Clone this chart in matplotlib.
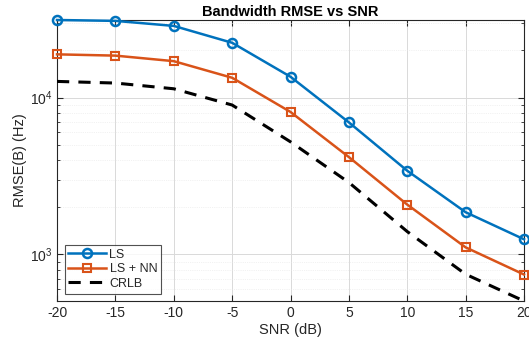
import matplotlib
matplotlib.use("Agg")
import matplotlib.pyplot as plt
from matplotlib.ticker import LogLocator, NullFormatter

snr = [-20, -15, -10, -5, 0, 5, 10, 15, 20]
ls = [31300, 30900, 28700, 22400, 13600, 6960, 3420, 1860, 1250]
ls_nn = [18900, 18550, 17100, 13400, 8110, 4180, 2080, 1110, 745]
crlb = [12700, 12400, 11400, 8980, 5230, 2880, 1400, 748, 505]

plt.rcParams['font.family'] = ['Liberation Sans', 'DejaVu Sans']
plt.rcParams['mathtext.fontset'] = 'custom'
plt.rcParams['mathtext.rm'] = 'Liberation Sans'

fig = plt.figure(figsize=(5.29, 3.46), dpi=100)
ax = fig.add_axes([57/529, 1-301/346, (524-57)/529, (301-20)/346])

blue = (0, 0.447, 0.741)
orange = (0.85, 0.325, 0.098)
ax.semilogy(snr, ls, '-o', color=blue, lw=1.8, ms=6.5, mfc='none', mew=1.8, label='LS', clip_on=False, zorder=3)
ax.semilogy(snr, ls_nn, '-s', color=orange, lw=1.8, ms=5.5, mfc='none', mew=1.5, label='LS + NN', clip_on=False, zorder=3)
ax.semilogy(snr, crlb, '--', color='black', lw=2.2, dashes=(4, 3), label='CRLB', zorder=3)

allv = ls + ls_nn + crlb
ax.set_xlim(-20, 20)
ax.set_ylim(min(allv), max(allv))
ax.set_xticks(snr)
ax.set_xticklabels([str(v) for v in snr])
ax.yaxis.set_major_locator(LogLocator(base=10, numticks=10))
ax.yaxis.set_minor_locator(LogLocator(base=10, subs=range(2, 10), numticks=20))
ax.yaxis.set_minor_formatter(NullFormatter())

ax.grid(True, which='major', color=(0.85, 0.85, 0.85), lw=0.7)
ax.grid(True, which='minor', axis='y', color=(0.9, 0.9, 0.9), lw=0.5, ls=':')
ax.set_axisbelow(True)

gray = (0.15, 0.15, 0.15)
for s in ax.spines.values():
    s.set_color(gray)
    s.set_linewidth(0.8)
ax.tick_params(which='both', direction='in', top=True, right=True, colors=gray, labelsize=10, labelcolor=gray)
ax.tick_params(which='major', length=4)
ax.tick_params(which='minor', length=2.5)

ax.set_title('Bandwidth RMSE vs SNR', fontsize=10.5, fontweight='bold', color='black', pad=3)
ax.set_xlabel('SNR (dB)', fontsize=10.5, color=gray, labelpad=2)
ax.set_ylabel('RMSE(B) (Hz)', fontsize=10.5, color=gray, labelpad=2)

leg = ax.legend(loc='lower left', fontsize=9, frameon=True, fancybox=False, edgecolor=gray,
                handlelength=3.0, borderaxespad=0.6, labelspacing=0.2, borderpad=0.3, handletextpad=0.3)
leg.get_frame().set_linewidth(0.8)
for t in leg.get_texts():
    t.set_color(gray)

fig.savefig('out.png', dpi=100)
